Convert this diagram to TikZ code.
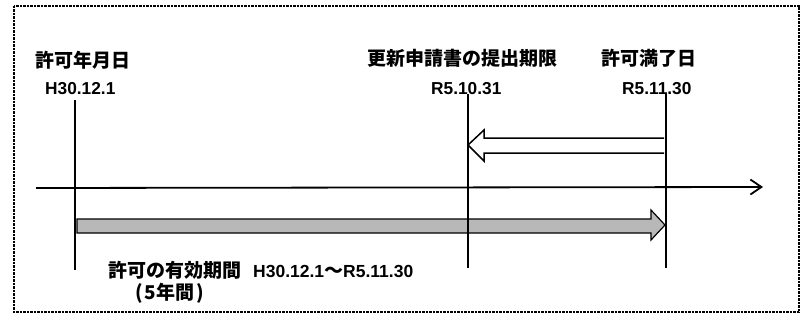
\documentclass[tikz,border=0pt]{standalone}
\usepackage{fontspec}
\setmainfont{Liberation Sans}
\newfontfamily\jp{Noto Sans CJK JP}
\usetikzlibrary{arrows.meta}
\begin{document}
\begin{tikzpicture}[x=1pt,y=-1pt,
  jlab/.style={font=\jp\bfseries\fontsize{19}{21}\selectfont, inner sep=0pt, anchor=west},
  dlab/.style={font=\bfseries\fontsize{17.3}{20}\selectfont, inner sep=0pt, anchor=west},
  tickline/.style={line width=2.6pt},
  axisline/.style={line width=1.8pt, -{Straight Barb[length=11pt,width=15pt,line width=1.8pt]}},
  frame/.style={line width=1.3pt, dash pattern=on 2.5pt off 1pt},
  grayarrow/.style={fill=black!28, draw=black, line width=1.2pt, line join=miter},
  whitearrow/.style={fill=white, draw=black, line width=1.5pt, line join=miter}]
\useasboundingbox[fill=white] (0,0) rectangle (803,321);
\draw[frame] (14,6) rectangle (799,312);

% coordinates
\coordinate (v1t) at (75,100);  \coordinate (v1b) at (75,270);
\coordinate (v2t) at (468,94);  \coordinate (v2b) at (468,268);
\coordinate (v3t) at (666,93);  \coordinate (v3b) at (666,268);
\coordinate (axL) at (36,188);  \coordinate (axR) at (763,187);

% gray period arrow
\draw[grayarrow] (77,219) -- (651,219) -- (651,210) -- (665,225) -- (651,240) -- (651,233) -- (77,233) -- cycle;
% white deadline arrow
\draw[whitearrow] (664,138) -- (484,138) -- (484,130) -- (468,145) -- (484,161) -- (484,153) -- (664,153);

% axis and ticks
\draw[axisline] (axL) -- (axR);
\draw[tickline] (v1t) -- (v1b);
\draw[tickline] (v2t) -- (v2b);
\draw[tickline] (v3t) -- (v3b);

% labels
\node[jlab] (l1) at (35,60) {許可年月日};
\node[dlab] (d1) at (45,89) {H30.12.1};
\node[jlab] (l2) at (367,58) {更新申請書の提出期限};
\node[dlab] (d2) at (431,89) {R5.10.31};
\node[jlab] (l3) at (601,58) {許可満了日};
\node[dlab] (d3) at (622,89) {R5.11.30};
\node[jlab] (p1) at (108,270) {許可の有効期間\hspace{12pt}{\rmfamily\fontsize{17.5}{20}\selectfont H30.12.1}～{\rmfamily\fontsize{17.5}{20}\selectfont R5.11.30}};
\node[jlab] (p2) at (135,293) {(\hspace{2pt}5年間\hspace{2pt})};
\end{tikzpicture}
\end{document}
